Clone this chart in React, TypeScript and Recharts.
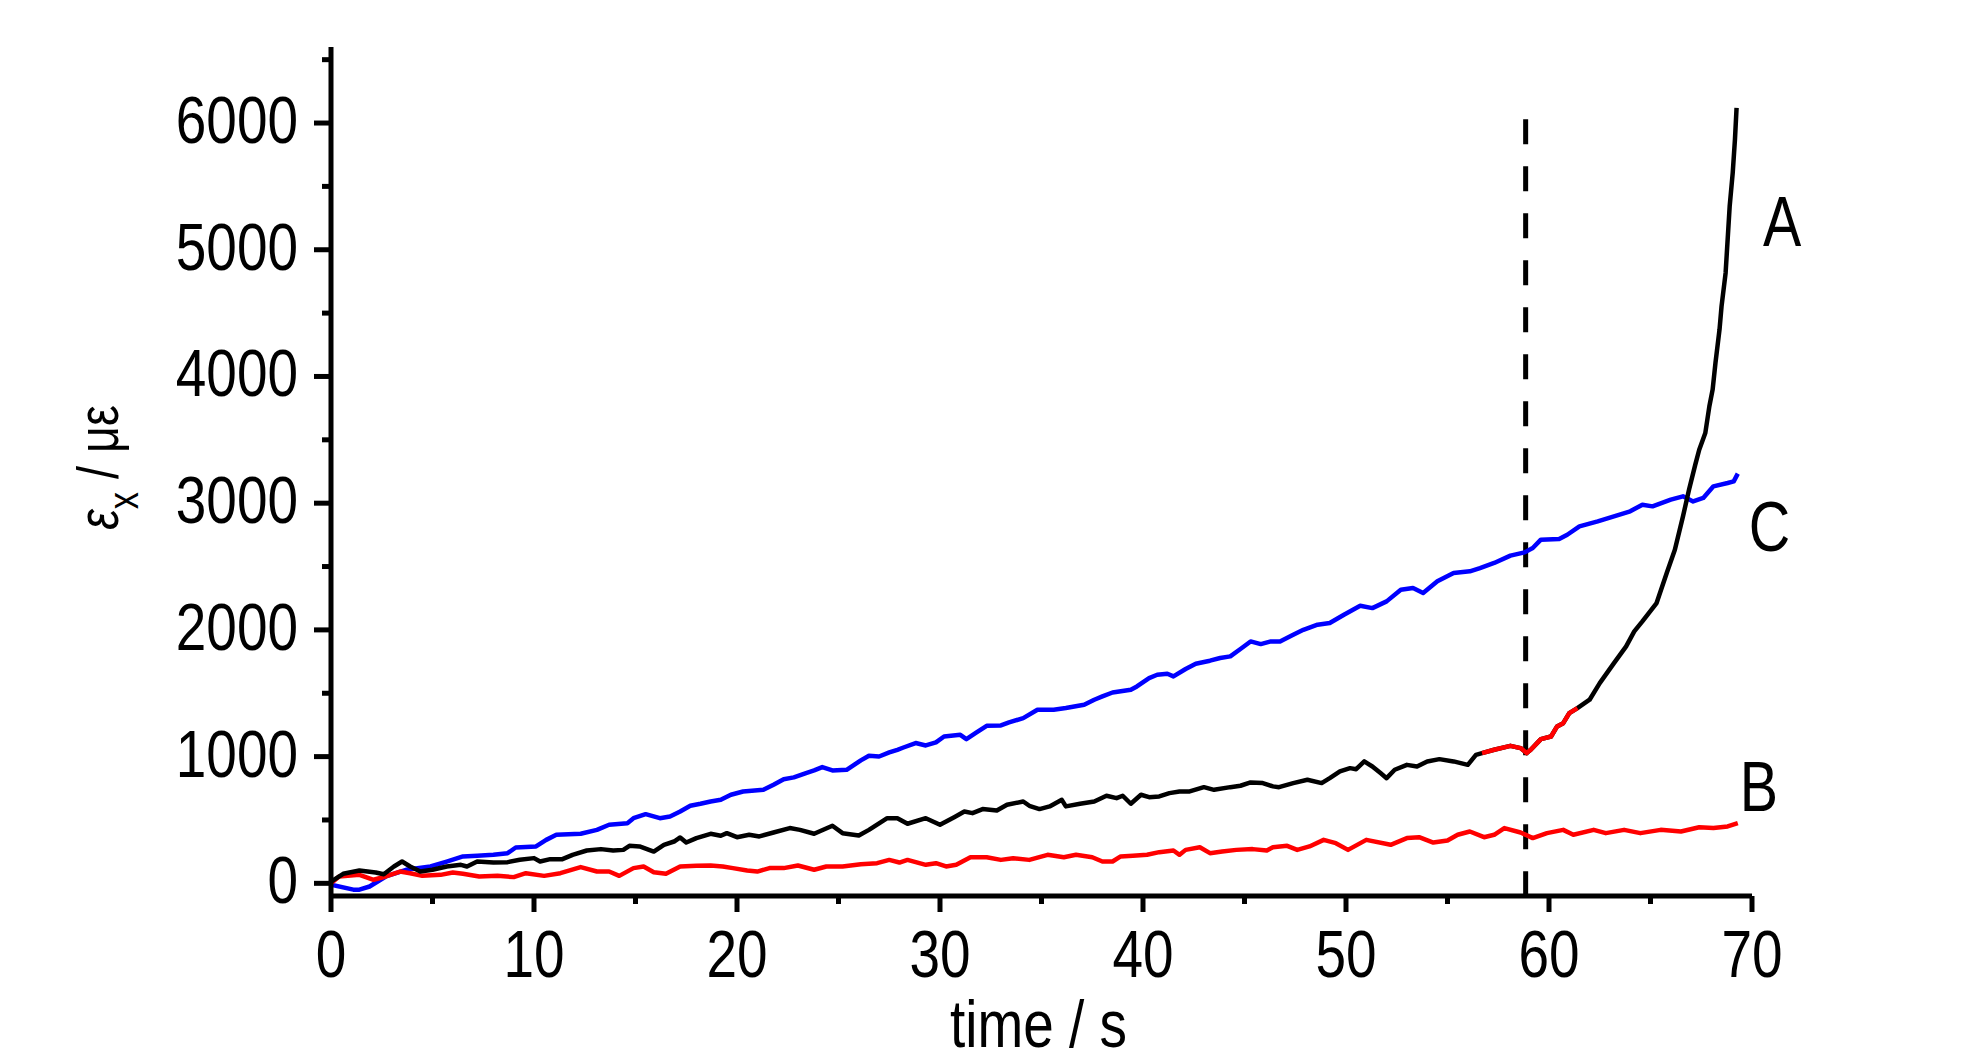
import React from "react";
import { LineChart, Line, XAxis, YAxis, ReferenceLine, ReferenceDot } from "recharts";

// curve A (black, with a red stretch around the dashed marker)
const aTime = [
  0, 0.6, 1.4, 2.2, 2.6, 3.1, 3.5, 3.9, 4.4, 5.0, 5.7, 6.4, 6.7, 7.2, 8.0, 8.7, 9.3, 10.0, 10.3, 10.8,
  11.4, 11.9, 12.6, 13.3, 13.9, 14.4, 14.7, 15.2, 15.9, 16.4, 16.9, 17.2, 17.5, 18.0, 18.7, 19.2, 19.5,
  20.0, 20.6, 21.1, 21.8, 22.6, 23.1, 23.8, 24.7, 25.2, 26.0, 26.5, 27.4, 27.9, 28.4, 29.3, 30.0, 30.7,
  31.2, 31.6, 32.1, 32.8, 33.3, 34.1, 34.4, 34.9, 35.4, 36.0, 36.2, 36.9, 37.6, 38.2, 38.7, 39.0, 39.4,
  39.9, 40.3, 40.8, 41.3, 41.8, 42.3, 43.0, 43.5, 44.3, 44.8, 45.3, 45.9, 46.4, 46.7, 47.4, 48.1, 48.8,
  49.2, 49.7, 50.2, 50.5, 50.9, 51.3, 51.7, 52.0, 52.4, 53.0, 53.5, 54.0, 54.6, 55.3, 56.0, 56.4, 56.7,
  57.3, 58.1, 58.6, 58.9, 59.1, 59.6, 60.1, 60.4, 60.7, 61.0, 61.4, 62.0, 62.5, 63.2, 63.8, 64.2, 64.6,
  65.3, 65.8, 66.2, 66.6, 66.9, 67.2, 67.4, 67.7, 67.9, 68.06, 68.2, 68.4, 68.5, 68.7, 68.8, 68.9, 69.05,
  69.16, 69.24,
];
const aStrain = [
  14, 75, 101, 86, 72, 133, 172, 133, 93, 107, 133, 146, 133, 172, 164, 167, 186, 199, 172, 191,
  191, 225, 259, 270, 259, 264, 296, 291, 251, 304, 330, 362, 322, 357, 391, 375, 396,
  364, 383, 370, 401, 436, 422, 391, 454, 396, 378, 422, 514, 514, 470, 514, 462, 522,
  567, 554, 586, 575, 620, 646, 612, 586, 607, 659, 607, 628, 646, 691, 672, 691, 628,
  699, 680, 686, 712, 725, 725, 759, 738, 759, 770, 796, 791, 765, 759, 791, 817, 791,
  830, 883, 909, 901, 962, 922, 870, 830, 896, 935, 922, 962, 980, 962, 935, 1014, 1028,
  1054, 1085, 1067, 1028, 1054, 1138, 1159, 1238, 1264, 1343, 1383, 1449, 1580, 1738, 1870, 1988, 2067,
  2212, 2449, 2633, 2896, 3107, 3300, 3422, 3554, 3765, 3896, 4107, 4370, 4554, 4817, 5080, 5343, 5607,
  5870, 6120,
];
const aRedFrom = 56.7;
const aRedTo = 61.4;

// curve B (red)
const bTime = [
  0, 0.4, 1.4, 2.1, 2.7, 3.4, 3.9, 4.5, 5.4, 6.0, 6.5, 7.3, 8.2, 9.0, 9.6, 10.5, 11.3, 12.3, 13.1, 13.7,
  14.2, 14.9, 15.4, 15.9, 16.5, 17.2, 18.0, 18.7, 19.3, 19.8, 20.5, 21.0, 21.6, 22.3, 23.0, 23.8, 24.4,
  25.2, 26.1, 26.9, 27.5, 28.0, 28.4, 29.3, 29.8, 30.3, 30.8, 31.5, 32.3, 33.0, 33.6, 34.4, 35.3, 36.1,
  36.7, 37.5, 38.0, 38.5, 38.9, 39.5, 40.2, 40.8, 41.5, 41.8, 42.1, 42.8, 43.3, 43.9, 44.6, 45.4, 46.1,
  46.4, 47.1, 47.6, 48.2, 48.9, 49.5, 50.1, 51.0, 52.2, 53.0, 53.6, 54.3, 55.0, 55.5, 56.1, 56.8, 57.3,
  57.8, 58.6, 59.2, 59.9, 60.7, 61.2, 62.2, 62.8, 63.7, 64.5, 65.5, 66.5, 67.4, 68.1, 68.8, 69.3,
];
const bStrain = [
  0, 54, 67, 28, 54, 93, 80, 59, 67, 85, 75, 54, 59, 49, 80, 59, 80, 128, 93, 93,
  59, 120, 133, 88, 75, 133, 138, 141, 133, 120, 101, 93, 120, 120, 141, 107, 133,
  133, 151, 159, 185, 164, 185, 146, 159, 133, 146, 206, 206, 185, 198, 185, 225, 206,
  225, 206, 172, 172, 212, 217, 225, 246, 259, 225, 264, 285, 238, 251, 264, 270, 259,
  285, 296, 264, 291, 343, 317, 264, 343, 304, 357, 364, 322, 338, 383, 409, 364, 383,
  436, 401, 357, 396, 422, 383, 422, 396, 422, 396, 422, 409, 443, 436, 449, 475,
];

// curve C (blue)
const cTime = [
  0, 1.1, 1.4, 1.9, 2.7, 3.7, 4.9, 5.7, 6.5, 7.2, 8.0, 8.7, 9.1, 10.1, 10.6, 11.1, 12.3, 13.1, 13.7, 14.6,
  14.9, 15.5, 16.2, 16.7, 17.2, 17.7, 18.2, 18.7, 19.2, 19.7, 20.3, 21.3, 21.8, 22.3, 22.8, 23.4, 23.8,
  24.2, 24.7, 25.4, 26.1, 26.5, 27.0, 27.5, 27.9, 28.2, 28.8, 29.3, 29.8, 30.2, 31.0, 31.3, 31.8, 32.3,
  33.0, 33.4, 34.1, 34.8, 35.6, 36.2, 37.1, 37.6, 38.0, 38.5, 39.4, 39.7, 40.3, 40.7, 41.2, 41.5, 42.1,
  42.6, 43.3, 43.8, 44.3, 44.8, 45.3, 45.8, 46.3, 46.75, 47.4, 47.9, 48.6, 49.2, 49.9, 50.7, 51.3, 52.0,
  52.7, 53.3, 53.8, 54.5, 55.3, 56.1, 56.6, 57.3, 58.1, 58.8, 59.2, 59.6, 60.5, 60.9, 61.5, 62.4, 63.2,
  64.0, 64.6, 65.1, 66.0, 66.6, 67.1, 67.6, 68.1, 68.8, 69.1, 69.3,
];
const cStrain = [
  -10, -50, -50, -25, 54, 107, 133, 172, 212, 217, 225, 238, 283, 291, 343, 383, 391, 422, 462, 475,
  514, 546, 514, 528, 567, 612, 628, 646, 659, 699, 725, 738, 778, 822, 836, 870, 891,
  917, 891, 896, 970, 1007, 1001, 1033, 1054, 1072, 1107, 1088, 1112, 1159, 1172, 1138, 1191, 1243,
  1246, 1270, 1304, 1370, 1370, 1383, 1409, 1449, 1475, 1506, 1528, 1554, 1620, 1646, 1654, 1633, 1691,
  1733, 1757, 1778, 1791, 1849, 1909, 1888, 1909, 1909, 1962, 2001, 2041, 2054, 2120, 2191, 2172, 2225,
  2317, 2330, 2291, 2383, 2449, 2462, 2488, 2528, 2586, 2612, 2646, 2712, 2717, 2751, 2817, 2857, 2896,
  2936, 2988, 2975, 3028, 3054, 3014, 3041, 3133, 3159, 3172, 3233,
];

const markerTime = 58.85;
const markerTop = 6030;

const curveNames = ["A", "C", "B"];
const curveLabelTime = [71.48, 70.86, 70.34];
const curveLabelStrain = [5031, 2624, 572];

const xTicks = [0, 5, 10, 15, 20, 25, 30, 35, 40, 45, 50, 55, 60, 65, 70];
const yTicks = [0, 500, 1000, 1500, 2000, 2500, 3000, 3500, 4000, 4500, 5000, 5500, 6000, 6500];

const FONT = '"Liberation Sans", Arial, sans-serif';
// no Arial Narrow installed: squeeze Liberation Sans horizontally instead
const SQUEEZE = 0.82;

const toPoints = (ts: number[], vs: number[]) => ts.map((t, i) => ({ t, v: vs[i] }));

const dataA = toPoints(aTime, aStrain);
const dataARed = dataA.filter((p) => p.t >= aRedFrom && p.t <= aRedTo);
const dataB = toPoints(bTime, bStrain);
const dataC = toPoints(cTime, cStrain);

function Narrow({ x, y, size, anchor = "middle", rotate = 0, children }: any) {
  return (
    <g transform={`translate(${x},${y}) rotate(${rotate}) scale(${SQUEEZE},1)`}>
      <text x={0} y={0} textAnchor={anchor} fontSize={size} fontFamily={FONT} fill="#000">
        {children}
      </text>
    </g>
  );
}

function YTick(props: any) {
  const { x, y, payload } = props;
  const major = payload.value % 1000 === 0;
  return (
    <g>
      <line x1={x - (major ? 17 : 9)} x2={x} y1={y} y2={y} stroke="#000" strokeWidth={5} />
      {major && (
        <Narrow x={x - 33} y={y + 20} size={67} anchor="end">
          {payload.value}
        </Narrow>
      )}
    </g>
  );
}

function XTick(props: any) {
  const { x, y, payload } = props;
  const major = payload.value % 10 === 0;
  return (
    <g>
      <line x1={x} x2={x} y1={y} y2={y + (major ? 16 : 8)} stroke="#000" strokeWidth={5} />
      {major && (
        <Narrow x={x} y={y + 81} size={67}>
          {payload.value}
        </Narrow>
      )}
    </g>
  );
}

export default function App() {
  return (
    <div style={{ position: "absolute", left: 0, top: 0, background: "#fff" }}>
      <LineChart width={1984} height={1063} margin={{ top: 47, right: 232, bottom: 67, left: 231 }}>
        <XAxis
          type="number"
          dataKey="t"
          domain={[0, 70]}
          ticks={xTicks}
          interval={0}
          allowDataOverflow
          tickSize={0}
          tickMargin={0}
          tickLine={false}
          tick={<XTick />}
          height={100}
          axisLine={{ stroke: "#000", strokeWidth: 5 }}
          label={{
            content: (p: any) => {
              const vb = p.viewBox;
              return (
                <Narrow x={vb.x + vb.width / 2 - 3} y={vb.y + 151} size={67}>
                  time / s
                </Narrow>
              );
            },
          }}
        />
        <YAxis
          type="number"
          dataKey="v"
          domain={[-100, 6600]}
          ticks={yTicks}
          interval={0}
          allowDataOverflow
          tickSize={0}
          tickMargin={0}
          tickLine={false}
          tick={<YTick />}
          width={100}
          axisLine={{ stroke: "#000", strokeWidth: 5 }}
          label={{
            content: (p: any) => {
              const vb = p.viewBox;
              return (
                <Narrow x={vb.x - 113} y={vb.y + vb.height / 2 - 4} size={57} rotate={-90}>
                  <tspan fontStyle="italic">ε</tspan>
                  <tspan fontSize={42} dy={20}>x</tspan>
                  <tspan dy={-20}> / με</tspan>
                </Narrow>
              );
            },
          }}
        />
        <ReferenceLine
          segment={[{ x: markerTime, y: markerTop }, { x: markerTime, y: -100 }]}
          stroke="#000"
          strokeWidth={5}
          strokeDasharray="25 22"
          ifOverflow="visible"
        />
        <Line data={dataC} dataKey="v" type="linear" stroke="#0000ff" strokeWidth={4.5} dot={false} isAnimationActive={false} strokeLinejoin="round" />
        <Line data={dataB} dataKey="v" type="linear" stroke="#ff0000" strokeWidth={4.5} dot={false} isAnimationActive={false} strokeLinejoin="round" />
        <Line data={dataA} dataKey="v" type="linear" stroke="#000000" strokeWidth={4.5} dot={false} isAnimationActive={false} strokeLinejoin="round" />
        <Line data={dataARed} dataKey="v" type="linear" stroke="#ff0000" strokeWidth={4.5} dot={false} isAnimationActive={false} strokeLinejoin="round" />
        {curveNames.map((name, i) => (
          <ReferenceDot
            key={name}
            x={curveLabelTime[i]}
            y={curveLabelStrain[i]}
            ifOverflow="visible"
            shape={(p: any) => (
              <Narrow x={p.cx} y={p.cy} size={70}>
                {name}
              </Narrow>
            )}
          />
        ))}
      </LineChart>
    </div>
  );
}
